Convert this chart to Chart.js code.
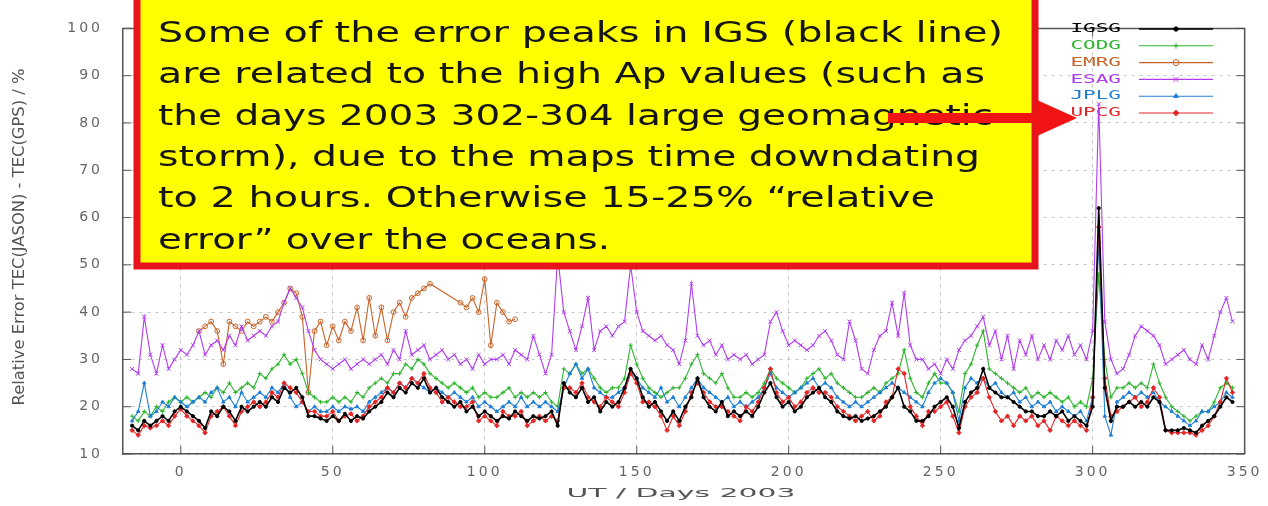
<!DOCTYPE html>
<html>
<head>
<meta charset="utf-8">
<script src="https://cdn.jsdelivr.net/npm/chart.js@4.4.0/dist/chart.umd.min.js"></script>
<style>
  html, body { margin: 0; padding: 0; background: #fff; }
  #wrap { width: 1268px; height: 506px; position: relative; }
</style>
</head>
<body>
<div id="wrap"><canvas id="chart"></canvas></div>
<script>
/* Relative error TEC(JASON) - TEC(GPS), days 2003
   - 6 GIM centres, gnuplot look, yellow note + red arrow on top
*/

// day of year (sampled every 2 days)
const days = [-16,-14,-12,-10,-8,-6,-4,-2,0,2,
  4,6,8,10,12,14,16,18,20,22,
  24,26,28,30,32,34,36,38,40,42,
  44,46,48,50,52,54,56,58,60,62,
  64,66,68,70,72,74,76,78,80,82,
  84,86,88,90,92,94,96,98,100,102,
  104,106,108,110,112,114,116,118,120,122,
  124,126,128,130,132,134,136,138,140,142,
  144,146,148,150,152,154,156,158,160,162,
  164,166,168,170,172,174,176,178,180,182,
  184,186,188,190,192,194,196,198,200,202,
  204,206,208,210,212,214,216,218,220,222,
  224,226,228,230,232,234,236,238,240,242,
  244,246,248,250,252,254,256,258,260,262,
  264,266,268,270,272,274,276,278,280,282,
  284,286,288,290,292,294,296,298,300,302,
  304,306,308,310,312,314,316,318,320,322,
  324,326,328,330,332,334,336,338,340,342,
  344,346];

const igsg = [16,15,17,16,17,18,17,19,20,19,
  18,17,15.5,19,18,20,19,17,20,19,
  20,21,20,22,21,24,23,24,22,18,
  18,17.5,17,18,17,18.5,17,18,17.5,19,
  20,21,23,22,24,23,25,24,26,23,
  24,22,21,20,21,19,20,18,19,18,
  17,18,17.5,19,18,17,18,17.5,18,19,
  16,25,23,22,24,21,22,19,21,20,
  21,24,28,26,22,20,21,19,17,19,
  17,20,22,26,22,20,19,21,18,19,
  18,19,18,20,23,25,22,20,21,19,
  20,22,23,24,22,21,19,18,17.5,18,
  17,17.5,18,19,20,22,24,20,19,17,
  17,18,20,21,22,20,15.5,21,23,24,
  28,24,23,22,22,21,20,19,19,18,
  18,19,18,19,17,18,17,16,20,62,
  24,17,20,20,21,20,21,20,22,21,
  15,15,15,15.5,15,14.5,16,17,18,20,
  22,21];

const codg = [18,17,19,18,20,19,21,22,21,22,
  21,22,23,22,24,23,25,23,24,25,
  24,27,26,28,29,31,29,30,27,23,
  22,21,21,22,21,22,21,23,22,24,
  25,26,25,27,27,29,28,30,29,27,
  26,25,24,25,24,23,24,22,23,22,
  22,23,24,22,23,22,23,22,23,21,
  20,28,27,29,27,28,26,24,23,24,
  24,26,33,29,26,24,23,22,23,24,
  24,26,29,31,27,26,25,27,24,22,
  22,23,22,23,25,28,26,25,24,23,
  24,26,27,28,26,27,25,24,23,22,
  22,23,24,23,25,26,27,32,26,23,
  22,25,27,25,25,23,19,27,29,33,
  36,28,27,26,25,24,23,24,22,23,
  22,23,22,21,22,20,21,20,26,48,
  30,22,24,24,25,24,25,24,29,25,
  22,20,19,18,17,18,19,19,21,24,
  25,24];

// EMRG only covers the first part of the year
const emrgDays = [6,8,10,12,14,16,18,20,22,24,
  26,28,30,32,34,36,38,40,42,44,
  46,48,50,52,54,56,58,60,62,64,
  66,68,70,72,74,76,78,80,82,
  92,94,96,98,100,102,104,106,108,110];
const emrg = [36,37,38,36,29,38,37,36,38,37,
  38,39,38,40,42,45,44,39,23,36,
  38,33,37,34,38,36,41,34,43,35,
  41,34,40,42,39,43,44,45,46,
  42,41,43,40,47,33,42,40,38,38.5];

const esag = [28,27,39,31,27,33,28,30,32,31,
  33,36,31,33,34,32,35,33,37,34,
  35,36,35,37,38,42,45,43,41,36,
  32,30,29,28,29,30,28,29,30,29,
  30,31,29,32,30,36,31,32,33,30,
  31,32,30,31,29,30,28,31,29,30,
  30,31,29,32,31,30,35,31,27,31,
  52,40,36,32,37,43,32,36,37,35,
  37,38,50,40,36,35,34,35,33,32,
  29,34,46,35,33,34,31,33,30,31,
  30,31,29,30,31,38,40,36,33,34,
  33,32,33,35,36,34,31,30,38,34,
  28,27,32,35,36,42,35,44,33,30,
  30,28,29,27,30,28,32,34,35,37,
  39,33,36,30,35,28,34,31,35,30,
  33,30,34,32,35,31,33,30,36,84,
  38,30,27,28,31,35,37,36,35,33,
  29,30,31,32,30,29,33,30,35,40,
  43,38];

const jplg = [17,19,25,18,19,21,20,22,21,20,
  21,22,21,23,24,21,22,20,23,21,
  22,23,22,24,23,25,22,20,21,19,
  20,19,19,20,19,20,19.5,20,19,21,
  22,23,24,23,25,24,26,25,24,23,
  24,23,22,23,22,21,22,20,21,20,
  19,20,21,20,22,20,21,20,21,20,
  19,24,27,29,26,28,24,23,22,22,
  23,24,27,26,24,23,22,24,21,22,
  20,22,24,26,24,23,22,21,22,20,
  21,20,21,22,24,27,24,23,22,23,
  24,25,26,24,25,24,22,21,20,21,
  20,21,22,23,24,25,24,23,22,21,
  20,23,25,26,25,23,17,24,26,25,
  26,24,25,23,22,23,21,22,20,21,
  20,21,19,20,19,18,19,17,22,55,
  18,14,21,22,23,22,23,22,23,21,
  20,19,18,17,16,17,19,19,20,21,
  23,22];

const upcg = [15,14,16,15.5,16,17,16,18,19.5,18,
  17,16,14.5,18,19,20,18,16,19,20,
  21,20,21,23,22,25,24,23,21,19,
  19,18,18,19,17,18,18.5,17,18,20,
  21,22,24,23,25,24,26,25,27,24,
  23,21,22,21,20,20,21,17,18,17,
  16,19,18,18,19,16,17,18,17,18,
  17,24,24,23,25,22,21,20,22,21,
  20,23,27,25,21,21,20,18,15,18,
  16,19,23,25,23,21,20,20,19,18,
  17,20,19,21,24,28,23,21,22,20,
  21,23,24,23,23,22,20,19,18,17,
  18,19,17,18,21,22,28,27,20,18,
  16,19,19,20,21,18,14.5,20,22,23,
  26,22,19,17,18,16,18,17,18,16,
  17,15,18,17,16,17,16,15,22,58,
  26,18,19,20,21,22,20,21,24,22,
  15,14.5,14.5,14.5,14.5,14,15,16,18,21,
  26,23];

const seriesNames = ['IGSG','CODG','EMRG','ESAG','JPLG','UPCG'];
const seriesColors = ['#000000','#2db52d','#c8642a','#b03cf0','#1f7fd6','#e32626'];
const xTicks = [0,50,100,150,200,250,300,350];

const note = [
  'Some of the error peaks in IGS (black line)',
  'are related to the high Ap values (such as',
  'the days 2003 302-304 large geomagnetic',
  'storm), due to the maps time downdating',
  'to 2 hours. Otherwise 15-25% \u201crelative',
  'error\u201d over the oceans.'
];
// how far each note line runs in the picture (px)
const noteWidths = [845, 827, 835, 822, 777, 452];

function pts(xs, ys){
  return xs.map((d, i) => ({x: d, y: ys[i]}));
}

const seriesData = [pts(days, igsg), pts(days, codg), pts(emrgDays, emrg),
                    pts(days, esag), pts(days, jplg), pts(days, upcg)];
const styles = [
  {pointStyle:'circle',   radius:1.6, width:1.6, order:0},
  {pointStyle:'cross',    radius:2.2, width:1.1, order:3},
  {pointStyle:'circle',   radius:2.4, width:1.1, order:5},
  {pointStyle:'crossRot', radius:2.8, width:1.1, order:4},
  {pointStyle:'triangle', radius:2.0, width:1.1, order:2},
  {pointStyle:'rectRot',  radius:2.2, width:1.1, order:1}
];

const datasets = seriesNames.map((name, i) => ({
  label: name,
  data: seriesData[i],
  borderColor: seriesColors[i],
  backgroundColor: i === 2 ? 'rgba(0,0,0,0)' : seriesColors[i],
  borderWidth: styles[i].width,
  pointStyle: styles[i].pointStyle,
  pointRadius: styles[i].radius,
  pointBorderWidth: 1,
  pointBorderColor: seriesColors[i],
  pointBackgroundColor: i === 2 ? 'rgba(0,0,0,0)' : seriesColors[i],
  tension: 0,
  order: styles[i].order
}));

// draw text stretched horizontally so it covers a given width
function stretchText(ctx, text, x, y, width, angle){
  const w = ctx.measureText(text).width;
  ctx.save();
  ctx.translate(x, y);
  if(angle) ctx.rotate(angle);
  ctx.scale(width / w, 1);
  ctx.fillText(text, 0, 0);
  ctx.restore();
}

const gnuplotFrame = {
  id: 'gnuplotFrame',
  beforeDraw(chart){
    chart.ctx.letterSpacing = '3px';   // wide gnuplot tick labels
  },
  beforeDatasetsDraw(chart){
    const ctx = chart.ctx;
    const a = chart.chartArea;
    const xs = chart.scales.x, ys = chart.scales.y;
    ctx.save();
    ctx.letterSpacing = '0px';
    // right and top border
    ctx.strokeStyle = '#555';
    ctx.lineWidth = 1.5;
    ctx.beginPath();
    ctx.moveTo(a.left, a.top); ctx.lineTo(a.right, a.top); ctx.lineTo(a.right, a.bottom);
    ctx.stroke();
    // inward ticks, mirrored
    ctx.lineWidth = 1;
    ctx.beginPath();
    ys.ticks.forEach(t => {
      const y = ys.getPixelForValue(t.value);
      ctx.moveTo(a.left, y); ctx.lineTo(a.left + 8, y);
      ctx.moveTo(a.right, y); ctx.lineTo(a.right - 8, y);
    });
    xs.ticks.forEach(t => {
      const x = xs.getPixelForValue(t.value);
      ctx.moveTo(x, a.bottom); ctx.lineTo(x, a.bottom - 8);
      ctx.moveTo(x, a.top); ctx.lineTo(x, a.top + 8);
    });
    ctx.stroke();

    // legend: name, then sample line with marker
    chart.data.datasets.forEach((ds, i) => {
      const y = 29 + i * 16.8;
      ctx.save();
      ctx.font = '12px "DejaVu Sans Mono"';
      ctx.fillStyle = ds.borderColor;
      ctx.textAlign = 'right';
      ctx.textBaseline = 'middle';
      ctx.translate(1121, y);
      ctx.scale(1.75, 1);
      ctx.fillText(ds.label, 0, 0);
      ctx.restore();
      ctx.strokeStyle = ds.borderColor;
      ctx.lineWidth = ds.borderWidth;
      ctx.beginPath();
      ctx.moveTo(1139, y); ctx.lineTo(1213, y);
      ctx.stroke();
      ctx.fillStyle = ds.pointBackgroundColor;
      ctx.lineWidth = 1;
      Chart.helpers.drawPoint(ctx, {pointStyle: ds.pointStyle, radius: ds.pointRadius + 0.6, rotation: 0, borderWidth: 1}, 1176, y);
    });
    ctx.restore();
  },
  afterDraw(chart){
    const ctx = chart.ctx;
    ctx.save();
    ctx.letterSpacing = '0px';

    // axis titles, squeezed / stretched to the gnuplot size
    ctx.fillStyle = '#555';
    ctx.textAlign = 'center';
    ctx.textBaseline = 'middle';
    ctx.font = '15px "DejaVu Sans"';
    stretchText(ctx, 'Relative Error TEC(JASON) - TEC(GPS) / %', 20, 237, 337, -Math.PI / 2);
    ctx.font = '13px "DejaVu Sans"';
    stretchText(ctx, 'UT / Days 2003', 681, 494, 229, 0);

    // yellow note box
    ctx.fillStyle = '#ffff00';
    ctx.fillRect(137, -5, 898, 271);
    ctx.strokeStyle = '#e8141c';
    ctx.lineWidth = 7;
    ctx.strokeRect(137, -5, 898, 271);

    ctx.fillStyle = '#151515';
    ctx.textAlign = 'left';
    ctx.textBaseline = 'alphabetic';
    ctx.font = '29px "DejaVu Sans"';
    note.forEach((line, i) => stretchText(ctx, line, 158, 42 + i * 41.3, noteWidths[i], 0));

    // red arrow to the storm peak
    ctx.fillStyle = '#f01414';
    ctx.fillRect(888, 113, 152, 10);
    ctx.beginPath();
    ctx.moveTo(1037, 100);
    ctx.lineTo(1077, 118);
    ctx.lineTo(1037, 136);
    ctx.closePath();
    ctx.fill();
    ctx.restore();
  }
};

const tickFont = {family: 'DejaVu Sans', size: 14};

new Chart(document.getElementById('chart'), {
  type: 'line',
  data: {datasets},
  options: {
    responsive: true,
    maintainAspectRatio: false,
    animation: false,
    devicePixelRatio: 1,
    layout: {padding: {left: 0, top: 17, right: 23, bottom: 0}},
    plugins: {legend: {display: false}, tooltip: {enabled: false}},
    scales: {
      x: {
        type: 'linear',
        min: -19,
        max: 350,
        afterBuildTicks: s => { s.ticks = xTicks.map(v => ({value: v})); },
        afterFit: s => { s.height = 52; },
        ticks: {font: tickFont, color: '#666', padding: 10, maxRotation: 0, autoSkip: false},
        grid: {color: '#c4c4c4', lineWidth: 1, drawTicks: false},
        border: {display: true, color: '#555', width: 1.5, dash: [3, 5]}
      },
      y: {
        min: 10,
        max: 100,
        afterFit: s => { s.width = 123; },
        ticks: {stepSize: 10, font: tickFont, color: '#666', padding: 20},
        grid: {color: '#c4c4c4', lineWidth: 1, drawTicks: false},
        border: {display: true, color: '#555', width: 1.5, dash: [3, 5]}
      }
    }
  },
  plugins: [gnuplotFrame]
});
</script>
</body>
</html>
